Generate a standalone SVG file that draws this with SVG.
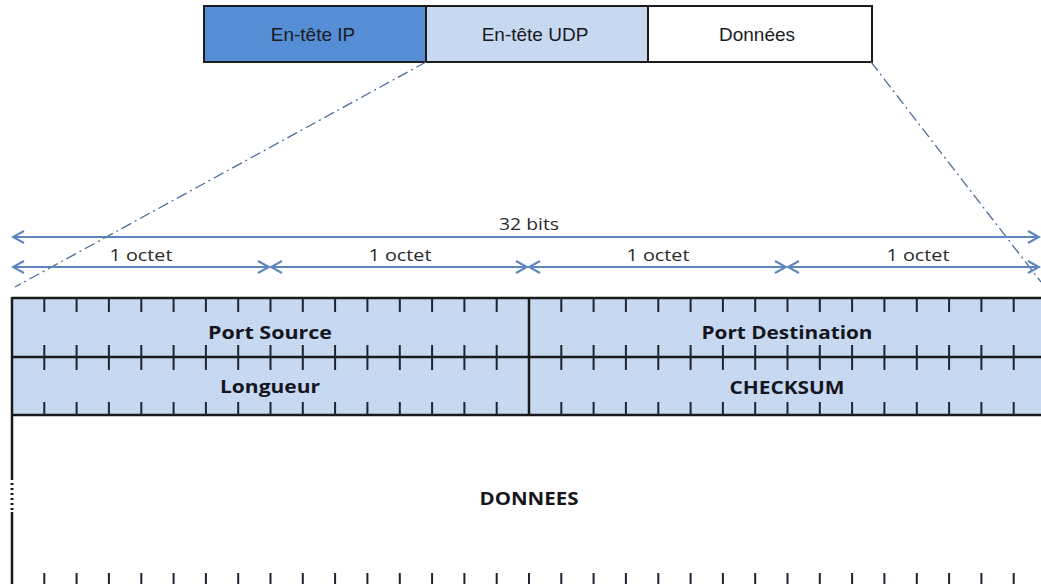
<svg xmlns="http://www.w3.org/2000/svg" width="1041" height="584" viewBox="0 0 1041 584">
<style>
.box{stroke:#1c1c1c;stroke-width:2}
.top{font-family:"Liberation Sans",Arial,sans-serif;font-size:19px;fill:#1a1a22;text-anchor:middle}
.lbl{font-family:"Open Sans","Liberation Sans",sans-serif;font-size:18px;font-weight:bold;fill:#151520;text-anchor:middle}
.dim{font-family:"Open Sans","Liberation Sans",sans-serif;font-size:16px;fill:#2a2a2a;text-anchor:middle}
.arr{stroke:#5b86bd;stroke-width:2;fill:none;marker-start:url(#chev);marker-end:url(#chev)}
.dd{stroke:#4d6d98;stroke-width:1.3;fill:none;stroke-dasharray:11 4 2 4}
.tick{stroke:#1e2430;stroke-width:2;fill:none}
.line{stroke:#1a1a1a;stroke-width:2.5;fill:none}
</style>
<defs>
<marker id="chev" viewBox="-13 -8 15 16" markerWidth="15" markerHeight="16" refX="0" refY="0" orient="auto-start-reverse" markerUnits="userSpaceOnUse">
<path d="M-11,-6 L0,0 L-11,6" stroke="#5b86bd" stroke-width="2" fill="none"/>
</marker>
</defs>
<rect width="1041" height="584" fill="#ffffff"/>

<g id="ip-header">
<rect class="box" x="204" y="6" width="222" height="56" fill="#558ed5"/>
<text class="top" x="313" y="41">En-tête IP</text>
</g>
<g id="udp-header">
<rect class="box" x="426" y="6" width="222" height="56" fill="#c6d9f1"/>
<text class="top" x="535" y="41">En-tête UDP</text>
</g>
<g id="data-top">
<rect class="box" x="648" y="6" width="224" height="56" fill="#ffffff"/>
<text class="top" x="757" y="41">Données</text>
</g>

<g id="connectors">
<path class="dd" d="M426,62 L15,287"/>
<path class="dd" d="M871,62 L1041,282"/>
<path class="arr" d="M13,237 H1039"/>
<path class="arr" d="M13,267 H269"/>
<path class="arr" d="M271,267 H527"/>
<path class="arr" d="M529,267 H786"/>
<path class="arr" d="M788,267 H1039"/>
</g>

<g id="dimension-labels">
<text class="dim" x="529" y="230" textLength="60" lengthAdjust="spacingAndGlyphs">32 bits</text>
<text class="dim" x="141" y="261" textLength="63" lengthAdjust="spacingAndGlyphs">1 octet</text>
<text class="dim" x="400" y="261" textLength="63" lengthAdjust="spacingAndGlyphs">1 octet</text>
<text class="dim" x="658" y="261" textLength="63" lengthAdjust="spacingAndGlyphs">1 octet</text>
<text class="dim" x="918" y="261" textLength="63" lengthAdjust="spacingAndGlyphs">1 octet</text>
</g>

<g id="udp-table">
<rect x="12" y="298" width="1040" height="117" fill="#c6d9f1"/>
<path class="line" d="M12,298 H1041 M12,357 H1041 M12,415 H1041 M529,298 V415"/>
<path class="line" d="M12,297 V480 M12,512 V584" stroke-width="3"/>
<path d="M12,483 V510" stroke="#1a1a1a" stroke-width="3" stroke-dasharray="2 3" fill="none"/>
<path class="tick" d="M44.3,298v14M76.6,298v14M108.9,298v14M141.3,298v14M173.6,298v14M205.9,298v14M238.2,298v14M270.5,298v14M302.8,298v14M335.1,298v14M367.4,298v14M399.8,298v14M432.1,298v14M464.4,298v14M496.7,298v14M561.3,298v14M593.6,298v14M625.9,298v14M658.3,298v14M690.6,298v14M722.9,298v14M755.2,298v14M787.5,298v14M819.8,298v14M852.1,298v14M884.4,298v14M916.8,298v14M949.1,298v14M981.4,298v14M1013.7,298v14"/>
<path class="tick" d="M44.3,345v25M76.6,345v25M108.9,345v25M141.3,345v25M173.6,345v25M205.9,345v25M238.2,345v25M270.5,345v25M302.8,345v25M335.1,345v25M367.4,345v25M399.8,345v25M432.1,345v25M464.4,345v25M496.7,345v25M561.3,345v25M593.6,345v25M625.9,345v25M658.3,345v25M690.6,345v25M722.9,345v25M755.2,345v25M787.5,345v25M819.8,345v25M852.1,345v25M884.4,345v25M916.8,345v25M949.1,345v25M981.4,345v25M1013.7,345v25"/>
<path class="tick" d="M44.3,402v13M76.6,402v13M108.9,402v13M141.3,402v13M173.6,402v13M205.9,402v13M238.2,402v13M270.5,402v13M302.8,402v13M335.1,402v13M367.4,402v13M399.8,402v13M432.1,402v13M464.4,402v13M496.7,402v13M561.3,402v13M593.6,402v13M625.9,402v13M658.3,402v13M690.6,402v13M722.9,402v13M755.2,402v13M787.5,402v13M819.8,402v13M852.1,402v13M884.4,402v13M916.8,402v13M949.1,402v13M981.4,402v13M1013.7,402v13"/>
<path class="tick" d="M44.3,573v11M76.6,573v11M108.9,573v11M141.3,573v11M173.6,573v11M205.9,573v11M238.2,573v11M270.5,573v11M302.8,573v11M335.1,573v11M367.4,573v11M399.8,573v11M432.1,573v11M464.4,573v11M496.7,573v11M529,573v11M561.3,573v11M593.6,573v11M625.9,573v11M658.3,573v11M690.6,573v11M722.9,573v11M755.2,573v11M787.5,573v11M819.8,573v11M852.1,573v11M884.4,573v11M916.8,573v11M949.1,573v11M981.4,573v11M1013.7,573v11"/>
</g>

<g id="port-source"><text class="lbl" x="270" y="339" textLength="124" lengthAdjust="spacingAndGlyphs">Port Source</text></g>
<g id="port-destination"><text class="lbl" x="787" y="339" textLength="171" lengthAdjust="spacingAndGlyphs">Port Destination</text></g>
<g id="longueur"><text class="lbl" x="270" y="393" textLength="100" lengthAdjust="spacingAndGlyphs">Longueur</text></g>
<g id="checksum"><text class="lbl" x="787" y="394" textLength="115" lengthAdjust="spacingAndGlyphs">CHECKSUM</text></g>
<g id="donnees"><text class="lbl" x="529" y="505" textLength="99" lengthAdjust="spacingAndGlyphs">DONNEES</text></g>
</svg>
